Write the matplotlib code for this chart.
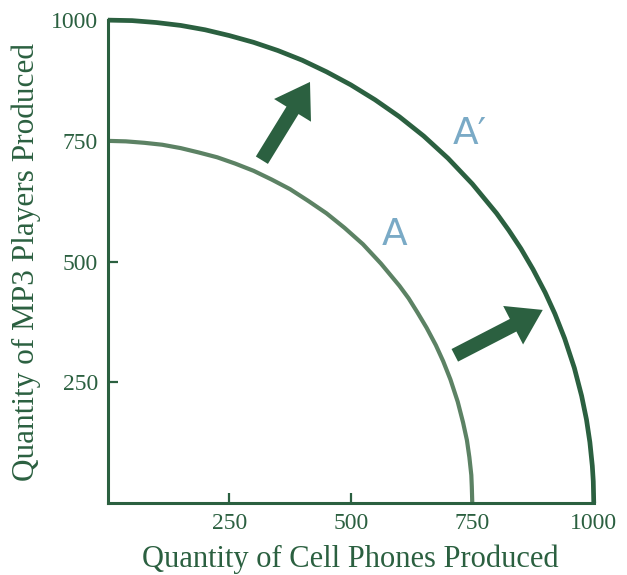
import matplotlib
matplotlib.use("Agg")
import matplotlib.pyplot as plt
from matplotlib.patches import FancyArrowPatch

# Outer frontier (A') points
outer_x = [0, 50, 100, 150, 200, 250, 300, 350, 400, 450, 500, 550, 600, 650, 700, 750,
           800, 825, 850, 875, 900, 920, 940, 960, 975, 985, 992, 997, 999, 1000]
outer_y = [1000, 999, 995, 989, 980, 968, 954, 937, 917, 893, 866, 835, 800, 760, 714, 661,
           600, 565, 527, 484, 436, 392, 341, 280, 222, 173, 126, 77, 45, 0]
# Inner frontier (A)
inner_x = [0, 37, 75, 112, 150, 187, 225, 262, 300, 337, 375, 412, 450, 487, 525, 562,
           600, 619, 637, 656, 675, 690, 705, 720, 731, 739, 744, 748, 749, 750]
inner_y = [750, 749, 746, 742, 735, 726, 716, 703, 688, 670, 650, 626, 600, 570, 536, 496,
           450, 424, 395, 363, 327, 294, 256, 210, 167, 130, 95, 58, 34, 0]

ticks = [250, 500, 750, 1000]
tick_labels = ["250", "500", "750", "1000"]

# Shift arrows (tail -> head)
arrow_tails = [(317, 710), (714, 306)]
arrow_heads = [(416, 872), (895, 400)]

labels = ["A", "A\u2032"]
label_pos = [(590, 555), (745, 765)]

dark = "#2b6040"
light = "#5c8264"
blue = "#7aaac6"

fig = plt.figure(figsize=(6.27, 5.75), dpi=100)
ax = fig.add_axes([0.172, 0.125, 0.775, 0.840])

ax.plot(outer_x, outer_y, color=dark, lw=3.4, solid_capstyle="butt",
        solid_joinstyle="round", clip_on=False)
ax.plot(inner_x, inner_y, color=light, lw=3.0, solid_capstyle="butt",
        solid_joinstyle="round", clip_on=False)

for (tx, ty), (hx, hy) in zip(arrow_tails, arrow_heads):
    a = FancyArrowPatch((tx, ty), (hx, hy),
                        arrowstyle="simple,head_width=2.6,head_length=2.0,tail_width=0.85",
                        mutation_scale=12, color=dark, lw=0, shrinkA=0, shrinkB=0)
    ax.add_patch(a)

for lab, (x, y) in zip(labels, label_pos):
    ax.text(x, y, lab, color=blue, fontsize=27,
            family=["Liberation Sans Narrow", "DejaVu Sans"], ha="center", va="center")

ax.set_xlim(0, 1000)
ax.set_ylim(0, 1000)
for s in ["top", "right"]:
    ax.spines[s].set_visible(False)
for s in ["left", "bottom"]:
    ax.spines[s].set_color(dark)
    ax.spines[s].set_linewidth(2.2)

serif = ["Liberation Serif", "DejaVu Serif"]
ax.set_xticks(ticks)
ax.set_xticklabels(tick_labels, family=serif, fontsize=17, color=dark)
ax.set_yticks(ticks)
ax.set_yticklabels(tick_labels, family=serif, fontsize=17, color=dark)
ax.tick_params(direction="in", length=7, width=1.6, color=dark, pad=7)

ax.set_xlabel("Quantity of Cell Phones Produced", family=serif, fontsize=22, color=dark, labelpad=8)
ax.set_ylabel("Quantity of MP3 Players Produced", family=serif, fontsize=22.5, color=dark, labelpad=7)

fig.savefig("out.png", dpi=100)
